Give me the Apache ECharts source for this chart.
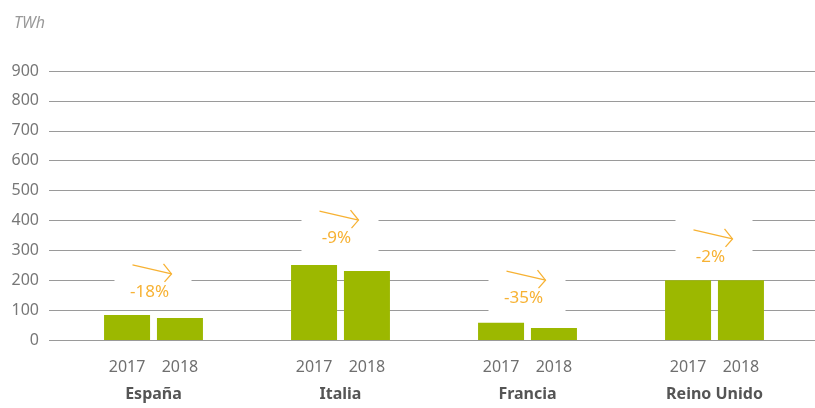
<!DOCTYPE html>
<html>
<head>
<meta charset="utf-8">
<script src="https://cdn.jsdelivr.net/npm/echarts@6/dist/echarts.min.js"></script>
<style>
  html, body { margin: 0; padding: 0; background: #fff; }
  #chart { width: 815px; height: 408px; }
</style>
</head>
<body>
<div id="chart"></div>
<script>
const countries = ['España', 'Italia', 'Francia', 'Reino Unido'];
const years = ['2017', '2018'];
const values2017 = [84, 251, 58, 200];
const values2018 = [74, 231, 40, 200];
const changes = ['-18%', '-9%', '-35%', '-2%'];
// height (TWh) where each change label sits
const changeLevel = [161, 341, 140, 278];
const yTicks = { min: 0, max: 900, interval: 100 };

const green = '#9cb800';
const orange = '#f7b234';

// draws the arrow + percentage, on a white patch that hides the grid lines
function renderChange(params, api) {
    const p = api.coord([api.value(0), api.value(1)]);
    const cx = p[0] - 4, cy = p[1];
    const tipX = cx + 22, tipY = cy - 18;
    return {
        type: 'group',
        children: [
            { type: 'rect', shape: { x: cx - 35, y: cy - 38, width: 77, height: 54 }, style: { fill: '#fff' } },
            { type: 'line', shape: { x1: cx - 17, y1: cy - 27, x2: tipX, y2: tipY }, style: { stroke: orange, lineWidth: 1.3 } },
            { type: 'polyline', shape: { points: [[tipX - 8, tipY - 10], [tipX, tipY], [tipX - 7, tipY + 8]] }, style: { stroke: orange, fill: null, lineWidth: 1.3 } },
            {
                type: 'text', x: cx, y: cy,
                style: { text: changes[params.dataIndex], fill: orange, font: '17px "Noto Sans"', align: 'center', verticalAlign: 'middle' }
            }
        ]
    };
}

const yearLabel = {
    show: true,
    position: 'bottom',
    distance: 19,
    formatter: '{a}',
    color: '#6f6f6f',
    fontSize: 16,
    fontFamily: 'Noto Sans'
};

const option = {
    animation: false,
    title: {
        text: 'TWh', left: 9, top: 10,
        textStyle: { fontStyle: 'italic', fontWeight: 'normal', color: '#999', fontSize: 16, fontFamily: 'Noto Sans' }
    },
    grid: [
        { left: 49, right: 0, top: 71, bottom: 68 },
        { left: 60, right: 7, top: 71, bottom: 68 }
    ],
    xAxis: [
        { gridIndex: 0, type: 'category', data: countries, show: false },
        {
            gridIndex: 1, type: 'category', data: countries,
            axisLine: { show: false }, axisTick: { show: false },
            axisLabel: { margin: 46, color: '#555', fontSize: 16, fontWeight: 'bold', fontFamily: 'Noto Sans' }
        }
    ],
    yAxis: [
        {
            gridIndex: 0, type: 'value', min: yTicks.min, max: yTicks.max, interval: yTicks.interval,
            axisLine: { show: false }, axisTick: { show: false },
            axisLabel: { margin: 10, color: '#777', fontSize: 16, fontFamily: 'Noto Sans' },
            splitLine: { lineStyle: { color: '#9a9a9a', width: 1 } }
        },
        {
            gridIndex: 1, type: 'value', min: yTicks.min, max: yTicks.max, interval: yTicks.interval,
            show: false, splitLine: { show: false }
        }
    ],
    series: [
        {
            name: years[0], type: 'bar', xAxisIndex: 1, yAxisIndex: 1,
            data: values2017, barWidth: 46, barGap: '15%',
            itemStyle: { color: green }, label: yearLabel, z: 3
        },
        {
            name: years[1], type: 'bar', xAxisIndex: 1, yAxisIndex: 1,
            data: values2018, barWidth: 46, barGap: '15%',
            itemStyle: { color: green }, label: yearLabel, z: 3
        },
        {
            type: 'custom', xAxisIndex: 1, yAxisIndex: 1,
            data: countries.map((c, i) => [i, changeLevel[i]]),
            renderItem: renderChange, z: 2
        }
    ]
};

const chart = echarts.init(document.getElementById('chart'));
chart.setOption(option);
</script>
</body>
</html>
